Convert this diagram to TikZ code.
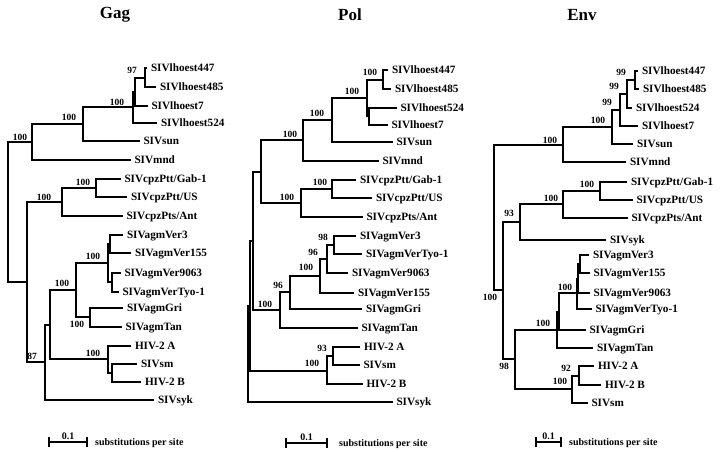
\documentclass[tikz,border=0pt]{standalone}
\usepackage{fontspec}
\setmainfont{Liberation Serif}
\usetikzlibrary{positioning}
\newcommand{\taxfont}{\fontsize{11.2}{12}\selectfont\bfseries}
\newcommand{\bootfont}{\fontsize{9.5}{10}\selectfont\bfseries}
\newcommand{\scalefont}{\fontsize{10}{11}\selectfont\bfseries}
\newcommand{\genefont}{\fontsize{17}{20}\selectfont\bfseries}
\tikzstyle{taxon} = [anchor=west, inner xsep=4pt, inner ysep=0pt, outer sep=0pt, text height=7.4pt, text depth=0pt, font=\taxfont]
\tikzstyle{boot} = [inner sep=0pt, text height=6pt, text depth=0pt, font=\bootfont]
\tikzstyle{genename} = [inner sep=0pt, font=\genefont]
\tikzstyle{branch} = [line width=2.2pt]
\tikzstyle{scalebar} = [line width=1.6pt, |-|]
\tikzstyle{scaletext} = [inner sep=0pt, text height=6pt, text depth=0pt, font=\scalefont]

\begin{document}
\begin{tikzpicture}[x=1pt, y=-1pt]
  \useasboundingbox (0,0) rectangle (723,452);

  % Gag
  \node[genename] (gagT) at (115,15) {Gag};
  \node[taxon] (gLh447) at (147,68) {SIVlhoest447};
  \node[taxon] (gLh485) at (156,87) {SIVlhoest485};
  \node[taxon] (gLh7) at (147.5,106) {SIVlhoest7};
  \node[taxon] (gLh524) at (157,123) {SIVlhoest524};
  \node[taxon] (gSun) at (139.5,141) {SIVsun};
  \node[taxon] (gMnd) at (130.5,160) {SIVmnd};
  \node[taxon] (gGab) at (120.5,179) {SIVcpzPtt/Gab-1};
  \node[taxon] (gUS) at (127,197) {SIVcpzPtt/US};
  \node[taxon] (gAnt) at (122.5,216) {SIVcpzPts/Ant};
  \node[taxon] (gVer3) at (123,235) {SIVagmVer3};
  \node[taxon] (gVer155) at (131,253) {SIVagmVer155};
  \node[taxon] (gVer9063) at (120.5,273) {SIVagmVer9063};
  \node[taxon] (gTyo) at (118.5,292) {SIVagmVerTyo-1};
  \node[taxon] (gGri) at (123,308) {SIVagmGri};
  \node[taxon] (gTan) at (121.5,327) {SIVagmTan};
  \node[taxon] (gHivA) at (131,346) {HIV-2 A};
  \node[taxon] (gSm) at (137,364) {SIVsm};
  \node[taxon] (gHivB) at (141,382) {HIV-2 B};
  \node[taxon] (gSyk) at (154,400) {SIVsyk};

  \coordinate (gA) at (145,78);
  \coordinate (gB) at (135,92);
  \coordinate (gC) at (133,107);
  \coordinate (gD) at (83,124);
  \coordinate (gE) at (32,142);
  \coordinate (gF) at (96,188);
  \coordinate (gG) at (62,202);
  \coordinate (gH1) at (110,244);
  \coordinate (gH2) at (112,282);
  \coordinate (gH) at (108,263);
  \coordinate (gK1) at (90,317);
  \coordinate (gK) at (76,290);
  \coordinate (gL2) at (112,373);
  \coordinate (gL) at (108,359);
  \coordinate (gJ) at (50,325);
  \coordinate (gI) at (45,362);
  \coordinate (gN) at (27,282);
  \coordinate (gR) at (8,212);

  \draw[branch] (gA) |- (gLh447) (gA) |- (gLh485);
  \draw[branch] (gB) |- (gA) (gB) |- (gLh7);
  \draw[branch] (gC) |- (gB) (gC) |- (gLh524);
  \draw[branch] (gD) |- (gC) (gD) |- (gSun);
  \draw[branch] (gE) |- (gD) (gE) |- (gMnd);
  \draw[branch] (gF) |- (gGab) (gF) |- (gUS);
  \draw[branch] (gG) |- (gF) (gG) |- (gAnt);
  \draw[branch] (gH1) |- (gVer3) (gH1) |- (gVer155);
  \draw[branch] (gH2) |- (gVer9063) (gH2) |- (gTyo);
  \draw[branch] (gH) |- (gH1) (gH) |- (gH2);
  \draw[branch] (gK1) |- (gGri) (gK1) |- (gTan);
  \draw[branch] (gK) |- (gH) (gK) |- (gK1);
  \draw[branch] (gL2) |- (gSm) (gL2) |- (gHivB);
  \draw[branch] (gL) |- (gHivA) (gL) |- (gL2);
  \draw[branch] (gJ) |- (gK) (gJ) |- (gL);
  \draw[branch] (gI) |- (gJ) (gI) |- (gSyk);
  \draw[branch] (gN) |- (gG) (gN) |- (gI);
  \draw[branch] (gR) |- (gE) (gR) |- (gN);

  \node[boot] (gbA) at (132,71) {97};
  \node[boot] (gbC) at (117,102) {100};
  \node[boot] (gbD) at (69,117) {100};
  \node[boot] (gbE) at (20,137) {100};
  \node[boot] (gbF) at (83,182) {100};
  \node[boot] (gbG) at (44,197) {100};
  \node[boot] (gbH) at (93,256) {100};
  \node[boot] (gbK) at (62,283) {100};
  \node[boot] (gbK1) at (77,324) {100};
  \node[boot] (gbL) at (93,353) {100};
  \node[boot] (gbI) at (32,356) {87};

  \coordinate (gsL) at (48,442);
  \coordinate (gsR) at (88,442);
  \draw[scalebar] (gsL) -- (gsR);
  \node[scaletext] (gsN) at (68,436) {0.1};
  \node[scaletext, anchor=west, right=7pt of gsR] (gsT) {substitutions per site};

  % Pol
  \node[genename] (polT) at (350,15) {Pol};
  \node[taxon] (pLh447) at (388,70) {SIVlhoest447};
  \node[taxon] (pLh485) at (391,89) {SIVlhoest485};
  \node[taxon] (pLh524) at (396.5,108) {SIVlhoest524};
  \node[taxon] (pLh7) at (387.5,125) {SIVlhoest7};
  \node[taxon] (pSun) at (392.5,142) {SIVsun};
  \node[taxon] (pMnd) at (378.5,161) {SIVmnd};
  \node[taxon] (pGab) at (356,180) {SIVcpzPtt/Gab-1};
  \node[taxon] (pUS) at (372,198) {SIVcpzPtt/US};
  \node[taxon] (pAnt) at (362.5,217) {SIVcpzPts/Ant};
  \node[taxon] (pVer3) at (356,236) {SIVagmVer3};
  \node[taxon] (pTyo) at (362,254) {SIVagmVerTyo-1};
  \node[taxon] (pVer9063) at (348,273) {SIVagmVer9063};
  \node[taxon] (pVer155) at (354,293) {SIVagmVer155};
  \node[taxon] (pGri) at (362,309) {SIVagmGri};
  \node[taxon] (pTan) at (357.5,328) {SIVagmTan};
  \node[taxon] (pHivA) at (360,347) {HIV-2 A};
  \node[taxon] (pSm) at (359.5,365) {SIVsm};
  \node[taxon] (pHivB) at (362.5,384) {HIV-2 B};
  \node[taxon] (pSyk) at (392.5,402) {SIVsyk};

  \coordinate (pM) at (383,80);
  \coordinate (pN2) at (369,116);
  \coordinate (pN) at (367,98);
  \coordinate (pO) at (332,120);
  \coordinate (pP) at (303,140);
  \coordinate (pQ) at (332,189);
  \coordinate (pR) at (301,203);
  \coordinate (pS) at (261,172);
  \coordinate (pZ) at (334,245);
  \coordinate (pY) at (327,259);
  \coordinate (pX) at (320,276);
  \coordinate (pW) at (290,292);
  \coordinate (pV) at (280,310);
  \coordinate (pAA) at (333,356);
  \coordinate (pBB) at (327,371);
  \coordinate (pT) at (253,241);
  \coordinate (pU) at (250,306);
  \coordinate (pRt) at (248,354);

  \draw[branch] (pM) |- (pLh447) (pM) |- (pLh485);
  \draw[branch] (pN2) |- (pLh524) (pN2) |- (pLh7);
  \draw[branch] (pN) |- (pM) (pN) |- (pN2);
  \draw[branch] (pO) |- (pN) (pO) |- (pSun);
  \draw[branch] (pP) |- (pO) (pP) |- (pMnd);
  \draw[branch] (pQ) |- (pGab) (pQ) |- (pUS);
  \draw[branch] (pR) |- (pQ) (pR) |- (pAnt);
  \draw[branch] (pS) |- (pP) (pS) |- (pR);
  \draw[branch] (pZ) |- (pVer3) (pZ) |- (pTyo);
  \draw[branch] (pY) |- (pZ) (pY) |- (pVer9063);
  \draw[branch] (pX) |- (pY) (pX) |- (pVer155);
  \draw[branch] (pW) |- (pX) (pW) |- (pGri);
  \draw[branch] (pV) |- (pW) (pV) |- (pTan);
  \draw[branch] (pAA) |- (pHivA) (pAA) |- (pSm);
  \draw[branch] (pBB) |- (pAA) (pBB) |- (pHivB);
  \draw[branch] (pT) |- (pS) (pT) |- (pV);
  \draw[branch] (pU) |- (pT) (pU) |- (pBB);
  \draw[branch] (pRt) |- (pU) (pRt) |- (pSyk);

  \node[boot] (pbM) at (370,73) {100};
  \node[boot] (pbN) at (352,91) {100};
  \node[boot] (pbO) at (317,114) {100};
  \node[boot] (pbP) at (290,134) {100};
  \node[boot] (pbQ) at (320,182) {100};
  \node[boot] (pbR) at (287,197) {100};
  \node[boot] (pbZ) at (323,237) {98};
  \node[boot] (pbY) at (313,252) {96};
  \node[boot] (pbX) at (306,267) {100};
  \node[boot] (pbW) at (278,285) {96};
  \node[boot] (pbV) at (265,304) {100};
  \node[boot] (pbAA) at (322,348) {93};
  \node[boot] (pbBB) at (312,363) {100};

  \coordinate (psL) at (285,443);
  \coordinate (psR) at (328,443);
  \draw[scalebar] (psL) -- (psR);
  \node[scaletext] (psN) at (306.5,437) {0.1};
  \node[scaletext, anchor=west, right=11pt of psR] (psT) {substitutions per site};

  % Env
  \node[genename] (envT) at (582,15) {Env};
  \node[taxon] (eLh447) at (638,71) {SIVlhoest447};
  \node[taxon] (eLh485) at (639,89) {SIVlhoest485};
  \node[taxon] (eLh524) at (632,108) {SIVlhoest524};
  \node[taxon] (eLh7) at (638,126) {SIVlhoest7};
  \node[taxon] (eSun) at (633,144) {SIVsun};
  \node[taxon] (eMnd) at (626,162) {SIVmnd};
  \node[taxon] (eGab) at (627,182) {SIVcpzPtt/Gab-1};
  \node[taxon] (eUS) at (632.5,200) {SIVcpzPtt/US};
  \node[taxon] (eAnt) at (627.5,218) {SIVcpzPts/Ant};
  \node[taxon] (eSyk) at (606,240) {SIVsyk};
  \node[taxon] (eVer3) at (589,255) {SIVagmVer3};
  \node[taxon] (eVer155) at (589.5,273) {SIVagmVer155};
  \node[taxon] (eVer9063) at (589.5,293) {SIVagmVer9063};
  \node[taxon] (eTyo) at (591.5,309) {SIVagmVerTyo-1};
  \node[taxon] (eGri) at (585.5,330) {SIVagmGri};
  \node[taxon] (eTan) at (593,348) {SIVagmTan};
  \node[taxon] (eHivA) at (594,366) {HIV-2 A};
  \node[taxon] (eHivB) at (601,385) {HIV-2 B};
  \node[taxon] (eSm) at (587.5,403) {SIVsm};

  \coordinate (e1) at (635,80);
  \coordinate (e2) at (627,94);
  \coordinate (e3) at (620,110);
  \coordinate (e4) at (612,127);
  \coordinate (e5) at (563,145);
  \coordinate (e6) at (600,191);
  \coordinate (e7) at (563,204);
  \coordinate (e8) at (520,222);
  \coordinate (ev1) at (580,264);
  \coordinate (ev2) at (578,279);
  \coordinate (ev) at (577,293);
  \coordinate (ea1) at (559,312);
  \coordinate (ea) at (557,330);
  \coordinate (eh1) at (579,376);
  \coordinate (eh) at (572,389);
  \coordinate (e98) at (515,359);
  \coordinate (e9) at (503,290);
  \coordinate (eRt) at (494,218);

  \draw[branch] (e1) |- (eLh447) (e1) |- (eLh485);
  \draw[branch] (e2) |- (e1) (e2) |- (eLh524);
  \draw[branch] (e3) |- (e2) (e3) |- (eLh7);
  \draw[branch] (e4) |- (e3) (e4) |- (eSun);
  \draw[branch] (e5) |- (e4) (e5) |- (eMnd);
  \draw[branch] (e6) |- (eGab) (e6) |- (eUS);
  \draw[branch] (e7) |- (e6) (e7) |- (eAnt);
  \draw[branch] (e8) |- (e7) (e8) |- (eSyk);
  \draw[branch] (ev1) |- (eVer3) (ev1) |- (eVer155);
  \draw[branch] (ev2) |- (ev1) (ev2) |- (eVer9063);
  \draw[branch] (ev) |- (ev2) (ev) |- (eTyo);
  \draw[branch] (ea1) |- (ev) (ea1) |- (eGri);
  \draw[branch] (ea) |- (ea1) (ea) |- (eTan);
  \draw[branch] (eh1) |- (eHivA) (eh1) |- (eHivB);
  \draw[branch] (eh) |- (eh1) (eh) |- (eSm);
  \draw[branch] (e98) |- (ea) (e98) |- (eh);
  \draw[branch] (e9) |- (e8) (e9) |- (e98);
  \draw[branch] (eRt) |- (e5) (eRt) |- (e9);

  \node[boot] (eb1) at (621,73) {99};
  \node[boot] (eb2) at (614,86) {99};
  \node[boot] (eb3) at (607,102) {99};
  \node[boot] (eb4) at (598,120) {100};
  \node[boot] (eb5) at (550,140) {100};
  \node[boot] (eb6) at (587,184) {100};
  \node[boot] (eb7) at (551,198) {100};
  \node[boot] (eb8) at (509,213) {93};
  \node[boot] (ebv) at (565,287) {100};
  \node[boot] (eba) at (543,323) {100};
  \node[boot] (ebh1) at (566,368) {92};
  \node[boot] (ebh) at (560,381) {100};
  \node[boot] (eb98) at (504,366) {98};
  \node[boot] (eb9) at (490,297) {100};

  \coordinate (esL) at (535,442);
  \coordinate (esR) at (562,442);
  \draw[scalebar] (esL) -- (esR);
  \node[scaletext] (esN) at (548.5,436) {0.1};
  \node[scaletext, anchor=west, right=7pt of esR] (esT) {substitutions per site};
\end{tikzpicture}
\end{document}
